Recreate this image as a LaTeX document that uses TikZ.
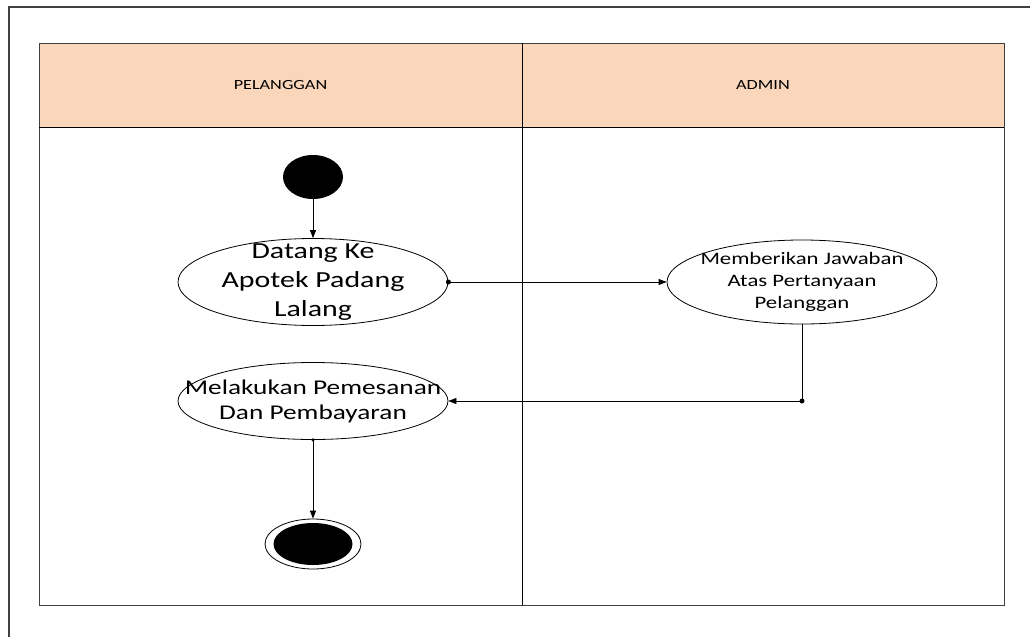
\documentclass[tikz,border=0pt]{standalone}
\usepackage{fontspec}
\setmainfont{Carlito}[FakeStretch=1.3]
\definecolor{lanepeach}{RGB}{250,215,186}
\definecolor{framegray}{RGB}{64,64,64}
\usetikzlibrary{shapes.geometric, arrows.meta}

\begin{document}
\begin{tikzpicture}[x=1pt, y=-1pt,
    act/.style={draw, ellipse, line width=0.8pt, minimum width=270pt, inner sep=0pt},
    acttext/.style={align=center, text=black},
    flow/.style={-{Triangle[length=8pt, width=6pt]}, line width=0.8pt},
    dot/.style={circle, fill, inner sep=0pt, minimum size=5pt}]
  \useasboundingbox (0,0) rectangle (1030,637);

  % Outer frame (top and left only)
  \draw[framegray, line width=1.2pt] (9,637) -- (9,7) -- (1030,7);

  % Swimlanes
  \fill[lanepeach] (39,43) rectangle (1004,127);
  \draw[framegray, line width=0.9pt] (39,43) rectangle (1004,605);
  \draw[line width=0.9pt] (39,127) -- (1004,127);
  \draw[line width=0.9pt] (522,43) -- (522,605);
  \node[font=\fontsize{14}{16}\selectfont] (lanepel) at (280.5,85) {PELANGGAN};
  \node[font=\fontsize{14}{16}\selectfont] (laneadm) at (763,85) {ADMIN};

  % Activities
  \node[fill, ellipse, minimum width=60pt, minimum height=44pt, inner sep=0pt] (start) at (313,177) {};
  \node[act, minimum height=87pt,
    label={[acttext, font=\fontsize{23}{29}\selectfont]center:{Datang Ke\\Apotek Padang\\Lalang}}] (datang) at (313,282) {};
  \node[act, minimum height=84pt,
    label={[acttext, font=\fontsize{17.5}{22}\selectfont]center:{Memberikan Jawaban\\Atas Pertanyaan\\Pelanggan}}] (jawab) at (802,282) {};
  \node[act, minimum height=77pt,
    label={[acttext, font=\fontsize{21}{25}\selectfont]center:{Melakukan Pemesanan\\Dan Pembayaran}}] (pesan) at (313,401) {};
  \node[draw, ellipse, line width=0.8pt, minimum width=96pt, minimum height=50pt, inner sep=0pt,
    path picture={\fill (path picture bounding box.center) ellipse [x radius=39.5pt, y radius=21pt];}] (stop) at (313,544) {};

  % Flows
  \draw[flow] (start) -- (datang);
  \draw[flow] (datang.east) -- (jawab.west);
  \node[dot] (titik1) at (datang.east) {};
  \draw[flow] (jawab.south) |- node[dot, pos=0.5] (siku) {} (pesan.east);
  \draw[flow] (pesan.south) -- (stop);
  \node[dot, minimum size=3.5pt] (titik2) at (pesan.south) {};
\end{tikzpicture}
\end{document}
